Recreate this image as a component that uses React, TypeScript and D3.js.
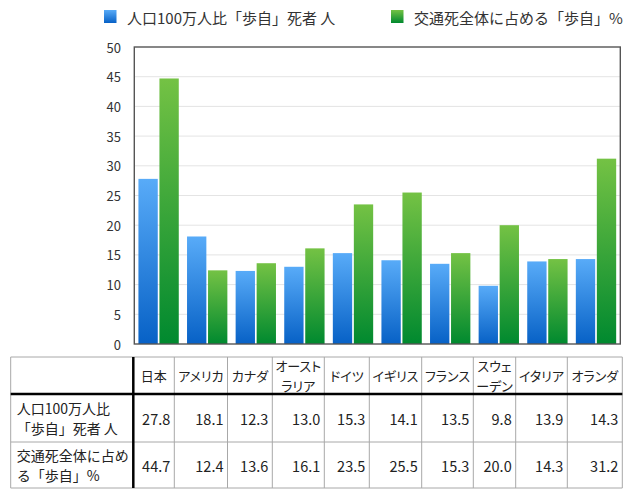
import { useEffect, useRef } from "react";
import * as d3 from "d3";

const categories = ["日本", "アメリカ", "カナダ", "オーストラリア", "ドイツ", "イギリス", "フランス", "スウェーデン", "イタリア", "オランダ"];
const headerLabels = [["日本"], ["アメリカ"], ["カナダ"], ["オースト", "ラリア"], ["ドイツ"], ["イギリス"], ["フランス"], ["スウェ", "ーデン"], ["イタリア"], ["オランダ"]];
const seriesNames = ["人口100万人比「歩自」死者 人", "交通死全体に占める「歩自」%"];
const rowLabels = [["人口100万人比", "「歩自」死者 人"], ["交通死全体に占め", "る「歩自」%"]];
const perMillion = [27.8, 18.1, 12.3, 13.0, 15.3, 14.1, 13.5, 9.8, 13.9, 14.3];
const sharePct = [44.7, 12.4, 13.6, 16.1, 23.5, 25.5, 15.3, 20.0, 14.3, 31.2];
const yTicks = [0, 5, 10, 15, 20, 25, 30, 35, 40, 45, 50];

// table column widths (layout only)
const colWidths = [122.6, 41, 53.2, 44.8, 52, 45, 52.4, 51.6, 42.4, 51.6, 55];

const FONT = '"Noto Sans CJK JP", "Noto Sans", sans-serif';

export default function App() {
  const ref = useRef<SVGSVGElement | null>(null);

  useEffect(() => {
    if (!ref.current) return;
    const width = 633;
    const height = 499;
    const plot = { left: 134.3, right: 620.3, top: 47, bottom: 344 };

    const svg = d3.select(ref.current)
      .attr("width", width)
      .attr("height", height)
      .style("font-family", FONT);

    svg.selectAll("*").remove();

    const defs = svg.append("defs");
    const grads = [
      { id: "gBlue", top: "#58abf8", bottom: "#0761c6" },
      { id: "gGreen", top: "#74c244", bottom: "#00892f" },
    ];
    grads.forEach(g => {
      const lg = defs.append("linearGradient")
        .attr("id", g.id)
        .attr("x1", 0).attr("y1", 0).attr("x2", 0).attr("y2", 1);
      lg.append("stop").attr("offset", "0%").attr("stop-color", g.top);
      lg.append("stop").attr("offset", "100%").attr("stop-color", g.bottom);
    });

    // -----------------------------
    // Legend
    // -----------------------------
    const legendX = [104, 391];
    seriesNames.forEach((name, i) => {
      svg.append("rect")
        .attr("x", legendX[i]).attr("y", 10)
        .attr("width", 12.5).attr("height", 13)
        .attr("fill", `url(#${grads[i].id})`);
      svg.append("text")
        .attr("x", legendX[i] + 23).attr("y", 17)
        .attr("dominant-baseline", "central")
        .attr("font-size", 15)
        .attr("fill", "#333")
        .text(name);
    });

    // -----------------------------
    // Scales
    // -----------------------------
    const y = d3.scaleLinear().domain([0, 50]).range([plot.bottom, plot.top]);
    const x = d3.scaleBand<string>()
      .domain(categories)
      .range([plot.left, plot.right])
      .paddingInner(0.17)
      .paddingOuter(0.085);
    const xs = d3.scaleBand<number>()
      .domain([0, 1])
      .range([0, x.bandwidth()])
      .paddingInner(0.08);

    // gridlines
    svg.append("g")
      .selectAll("line")
      .data(yTicks.slice(1, -1))
      .join("line")
      .attr("x1", plot.left).attr("x2", plot.right)
      .attr("y1", d => y(d)).attr("y2", d => y(d))
      .attr("stroke", "#e4e4e4")
      .attr("stroke-width", 1);

    // tick labels
    svg.append("g")
      .selectAll("text")
      .data(yTicks)
      .join("text")
      .attr("x", 121)
      .attr("y", d => y(d))
      .attr("dominant-baseline", "central")
      .attr("text-anchor", "end")
      .attr("font-size", 13)
      .attr("fill", "#333")
      .text(d => d);

    // bars
    const series = [perMillion, sharePct];
    series.forEach((vals, s) => {
      svg.append("g")
        .selectAll("rect")
        .data(vals)
        .join("rect")
        .attr("x", (_, i) => x(categories[i])! + xs(s)!)
        .attr("width", xs.bandwidth())
        .attr("y", d => y(d))
        .attr("height", d => y(0) - y(d))
        .attr("fill", `url(#${grads[s].id})`);
    });

    // frame
    svg.append("rect")
      .attr("x", plot.left).attr("y", plot.top)
      .attr("width", plot.right - plot.left)
      .attr("height", plot.bottom - plot.top)
      .attr("fill", "none")
      .attr("stroke", "#555")
      .attr("stroke-width", 1.4);

    // -----------------------------
    // Data table
    // -----------------------------
    const tLeft = 10.7;
    const rowEdges = [357, 394, 442, 488];
    const colEdges = [tLeft];
    colWidths.forEach(w => colEdges.push(colEdges[colEdges.length - 1] + w));
    const tRight = colEdges[colEdges.length - 1];

    const tg = svg.append("g");
    // thin grid
    rowEdges.forEach(ry => {
      tg.append("line")
        .attr("x1", tLeft).attr("x2", tRight)
        .attr("y1", ry).attr("y2", ry)
        .attr("stroke", "#a8a8a8").attr("stroke-width", 1);
    });
    colEdges.forEach(cx => {
      tg.append("line")
        .attr("x1", cx).attr("x2", cx)
        .attr("y1", rowEdges[0]).attr("y2", rowEdges[rowEdges.length - 1])
        .attr("stroke", "#a8a8a8").attr("stroke-width", 1);
    });
    // thick separators
    tg.append("line")
      .attr("x1", tLeft).attr("x2", tRight)
      .attr("y1", rowEdges[1]).attr("y2", rowEdges[1])
      .attr("stroke", "#000").attr("stroke-width", 2.5);
    tg.append("line")
      .attr("x1", colEdges[1]).attr("x2", colEdges[1])
      .attr("y1", rowEdges[0]).attr("y2", rowEdges[rowEdges.length - 1])
      .attr("stroke", "#000").attr("stroke-width", 2.5);

    const lineGap = 20;
    function multiline(xp: number, cy: number, lines: string[], anchor: string, size: number, palt = false) {
      const t = tg.append("text")
        .attr("text-anchor", anchor)
        .attr("font-size", size)
        .attr("fill", "#222");
      if (palt) t.style("font-feature-settings", '"palt"');
      lines.forEach((ln, k) => {
        t.append("tspan")
          .attr("x", xp)
          .attr("y", cy + (k - (lines.length - 1) / 2) * lineGap)
          .attr("dominant-baseline", "central")
          .text(ln);
      });
    }

    // header
    headerLabels.forEach((lines, i) => {
      const cx = (colEdges[i + 1] + colEdges[i + 2]) / 2;
      multiline(cx, (rowEdges[0] + rowEdges[1]) / 2, lines, "middle", 13, true);
    });

    // rows
    series.forEach((vals, r) => {
      const cy = (rowEdges[r + 1] + rowEdges[r + 2]) / 2;
      multiline(tLeft + 6, cy, rowLabels[r], "start", 14);
      vals.forEach((v, i) => {
        multiline(colEdges[i + 2] - 4, cy, [v.toFixed(1)], "end", 14.5);
      });
    });
  }, []);

  return (
    <div style={{ position: "absolute", left: 0, top: 0, background: "#fff" }}>
      <svg ref={ref} style={{ display: "block" }}></svg>
    </div>
  );
}
